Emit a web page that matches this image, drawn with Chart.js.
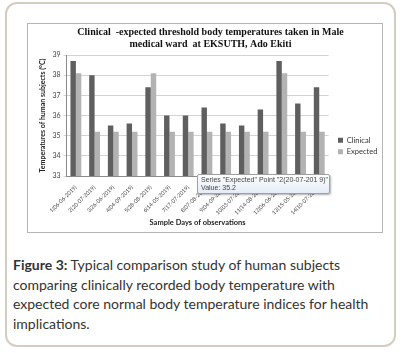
<!DOCTYPE html>
<html>
<head>
<meta charset="utf-8">
<script src="https://cdn.jsdelivr.net/npm/chart.js@4.4.0/dist/chart.umd.min.js"></script>
<style>
  html, body { margin: 0; padding: 0; background: #fff; }
  body { width: 404px; height: 353px; position: relative; overflow: hidden; }
  .card {
    position: absolute; left: 5px; top: 2px; width: 391px; height: 345px;
    border: 2px solid #d3cdbf; border-radius: 12px; box-sizing: border-box;
  }
  .chartbox {
    position: absolute; left: 27px; top: 23px; width: 356px; height: 210px;
    border: 1px solid #b5b5b5; box-sizing: border-box;
  }
  .tip {
    position: absolute; left: 197px; top: 174px; width: 133px; height: 20px;
    border: 1px solid #a0a0a0; border-radius: 2px; box-sizing: border-box;
    background: linear-gradient(#ffffff, #e4ecf7);
    box-shadow: 1px 1px 2px rgba(0,0,0,0.3);
    font: 7px "Liberation Sans", sans-serif; color: #444; line-height: 8px;
    padding: 1px 0 0 3px; white-space: nowrap;
  }
  .caption {
    position: absolute; left: 13px; top: 255px; width: 380px;
    font: 14px Lato, sans-serif; color: #333; line-height: 19.5px;
  }
</style>
</head>
<body>
<div class="card"></div>
<div class="chartbox"><canvas id="tempChart"></canvas></div>
<div class="tip">Series "Expected" Point "2(20-07-201 9)"<br>Value: 35.2</div>
<div class="caption"><b>Figure 3:</b> Typical comparison study of human subjects comparing clinically recorded body temperature with expected core normal body temperature indices for health implications.</div>
<script>
var days = ['1(06-06-2019)', '2(20-07-2019)', '3(26-06-2019)', '4(04-09-2019)', '5(28-08-2019)',
  '6(14-05-2019)', '7(17-07-2019)', '8(07-08-2019)', '9(04-09-2019)', '10(03-07-2019)',
  '11(14-08-2019)', '12(06-06-2019)', '13(15-05-2019)', '14(10-07-2019)'];
var clinical = [38.7, 38.0, 35.5, 35.6, 37.4, 36.0, 36.0, 36.4, 35.6, 35.5, 36.3, 38.7, 36.6, 37.4];
var expected = [38.1, 35.2, 35.2, 35.2, 38.1, 35.2, 35.2, 35.2, 35.2, 35.2, 35.2, 38.1, 35.2, 35.2];
var yTicks = [33, 34, 35, 36, 37, 38, 39];

// nudge the legend to where Excel put it (right of plot, a bit below middle)
var legendShift = {
  id: 'legendShift',
  afterLayout: function (chart) {
    var lg = chart.legend;
    var dx = (chart.width - 48) - lg.left;
    lg.left += dx; lg.right += dx;
    lg.top += 18; lg.bottom += 18;
  }
};

var ctx = document.getElementById('tempChart').getContext('2d');
var tempChart = new Chart(ctx, {
  type: 'bar',
  data: {
    labels: days,
    datasets: [{
      label: 'Clinical',
      data: clinical,
      backgroundColor: '#5f5f5f',
      categoryPercentage: 0.58,
      barPercentage: 1.0
    }, {
      label: 'Expected',
      data: expected,
      backgroundColor: '#b3b3b3',
      categoryPercentage: 0.58,
      barPercentage: 1.0
    }]
  },
  plugins: [legendShift],
  options: {
    responsive: true,
    maintainAspectRatio: false,
    animation: false,
    layout: { padding: { left: 11, right: 0, top: 0, bottom: 0 } },
    plugins: {
      tooltip: { enabled: false },
      title: {
        display: true,
        text: ['Clinical  -expected threshold body temperatures taken in Male', 'medical ward  at EKSUTH, Ado Ekiti'],
        font: { family: '"Liberation Serif", serif', size: 10, weight: 'bold' },
        color: '#111',
        lineHeight: 1.05,
        padding: { top: 2, bottom: 5 }
      },
      legend: {
        position: 'right',
        labels: {
          boxWidth: 5, boxHeight: 5, padding: 4,
          font: { family: 'Lato, sans-serif', size: 7.5 },
          color: '#333'
        }
      }
    },
    scales: {
      x: {
        afterFit: function (scale) { scale.height = 56; },
        grid: { display: false },
        border: { color: '#8c8c8c' },
        ticks: {
          maxRotation: 45, minRotation: 45, autoSkip: false,
          font: { family: 'Lato, sans-serif', size: 5.5 }, color: '#444', padding: 0
        },
        title: {
          display: true, text: 'Sample Days of observations',
          font: { family: 'Lato, sans-serif', size: 7.5, weight: 'bold' }, color: '#222',
          padding: { top: 0, bottom: 5 }
        }
      },
      y: {
        min: 33, max: 39,
        afterBuildTicks: function (axis) { axis.ticks = yTicks.map(function (v) { return { value: v }; }); },
        grid: { color: '#d4d4d4', drawTicks: true, tickLength: 3 },
        border: { color: '#8c8c8c' },
        ticks: { font: { family: 'Lato, sans-serif', size: 7 }, color: '#444', padding: 3 },
        title: {
          display: true, text: 'Temperatures of human subjects (\u00B0C)',
          font: { family: 'Lato, sans-serif', size: 7, weight: 'bold' }, color: '#222',
          padding: { top: 0, bottom: 2 }
        }
      }
    }
  }
});
</script>
</body>
</html>
